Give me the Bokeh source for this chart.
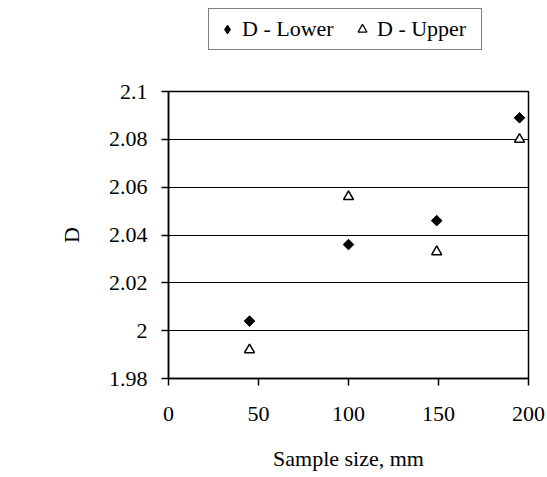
import math
from bokeh.plotting import figure
from bokeh.layouts import column
from bokeh.models import FixedTicker, Range1d, Legend, LegendItem, ColumnDataSource
from bokeh.embed import file_html
from bokeh.resources import INLINE

sample_size = [45, 100, 149, 195]
d_lower = [2.004, 2.036, 2.046, 2.089]
d_upper = [1.992, 2.056, 2.033, 2.080]
x_ticks = [0, 50, 100, 150, 200]
y_ticks = [1.98, 2.0, 2.02, 2.04, 2.06, 2.08, 2.1]
y_tick_labels = ["1.98", "2", "2.02", "2.04", "2.06", "2.08", "2.1"]
series_names = ["D - Lower", "D - Upper"]

FONT = "Liberation Serif"
FS = "22px"

# ---- legend strip (top); its frame is aligned with the main plot's frame ----
top = figure(width=547, height=60, output_backend="svg", toolbar_location=None,
             x_range=Range1d(0, 1), y_range=Range1d(0, 1),
             x_axis_type=None, y_axis_type=None,
             min_border_left=168, min_border_right=19, min_border_top=0, min_border_bottom=0)
top.outline_line_color = None
top.xgrid.visible = False
top.ygrid.visible = False
top.background_fill_color = "white"
top.border_fill_color = "white"
# legend-only renderers (their points fall outside this strip's 0..1 view)
leg_src = ColumnDataSource(dict(x=sample_size[:1], lo=d_lower[:1], up=d_upper[:1]))
lr1 = top.scatter("x", "lo", source=leg_src, marker="diamond", size=9,
                  fill_color="black", line_color="black")
lr2 = top.scatter("x", "up", source=leg_src, marker="triangle", size=9,
                  fill_color="white", line_color="black", line_width=1.3)
legend = Legend(items=[LegendItem(label=series_names[0], renderers=[lr1], index=0),
                       LegendItem(label=series_names[1], renderers=[lr2], index=0)],
                orientation="horizontal", location=(40, 10))
legend.label_text_font = FONT
legend.label_text_font_size = FS
legend.label_text_color = "black"
legend.border_line_color = "black"
legend.border_line_width = 1
legend.background_fill_alpha = 1
legend.glyph_width = 22
legend.glyph_height = 22
legend.label_width = 97
legend.label_standoff = 4
legend.spacing = 12
legend.padding = 7
legend.margin = 0
top.add_layout(legend, "center")

# ---- main plot ----
p = figure(width=547, height=417, output_backend="svg", toolbar_location=None,
           x_range=Range1d(0, 200), y_range=Range1d(1.98, 2.1),
           min_border_left=168, min_border_right=19, min_border_top=31, min_border_bottom=99)
p.background_fill_color = "white"
p.border_fill_color = "white"
p.outline_line_color = "black"
p.outline_line_width = 1.5

src = ColumnDataSource(dict(x=sample_size, lo=d_lower, up=d_upper))
r1 = p.scatter("x", "lo", source=src, marker="square", angle=math.pi / 4, size=7.5,
               fill_color="black", line_color="black")
r2 = p.scatter("x", "up", source=src, marker="triangle", size=10,
               fill_color="white", line_color="black", line_width=1.5)

p.xgrid.visible = False
p.ygrid.grid_line_color = "black"
p.ygrid.grid_line_width = 1
p.ygrid.ticker = FixedTicker(ticks=y_ticks)

p.xaxis.ticker = FixedTicker(ticks=x_ticks)
p.yaxis.ticker = FixedTicker(ticks=y_ticks)
p.yaxis.major_label_overrides = {t: l for t, l in zip(y_ticks, y_tick_labels)}
p.xaxis.major_label_overrides = {t: str(t) for t in x_ticks}

for ax in (p.xaxis[0], p.yaxis[0]):
    ax.axis_line_color = "black"
    ax.axis_line_width = 1.5
    ax.major_tick_line_color = "black"
    ax.major_tick_line_width = 1.5
    ax.major_tick_out = 7
    ax.major_tick_in = 0
    ax.minor_tick_line_color = None
    ax.major_label_text_font = FONT
    ax.major_label_text_font_size = FS
    ax.major_label_text_color = "black"
    ax.axis_label_text_font = FONT
    ax.axis_label_text_font_size = FS
    ax.axis_label_text_font_style = "normal"
    ax.axis_label_text_color = "black"

p.xaxis.axis_label = "Sample size, mm"
p.yaxis.axis_label = "D"
p.xaxis.major_label_standoff = 21
p.xaxis.axis_label_standoff = 22
p.yaxis.major_label_standoff = 14
p.yaxis.axis_label_standoff = 22
p.yaxis.major_label_orientation = "horizontal"

layout = column(top, p, spacing=0)
open("out.html", "w").write(file_html(layout, INLINE))
